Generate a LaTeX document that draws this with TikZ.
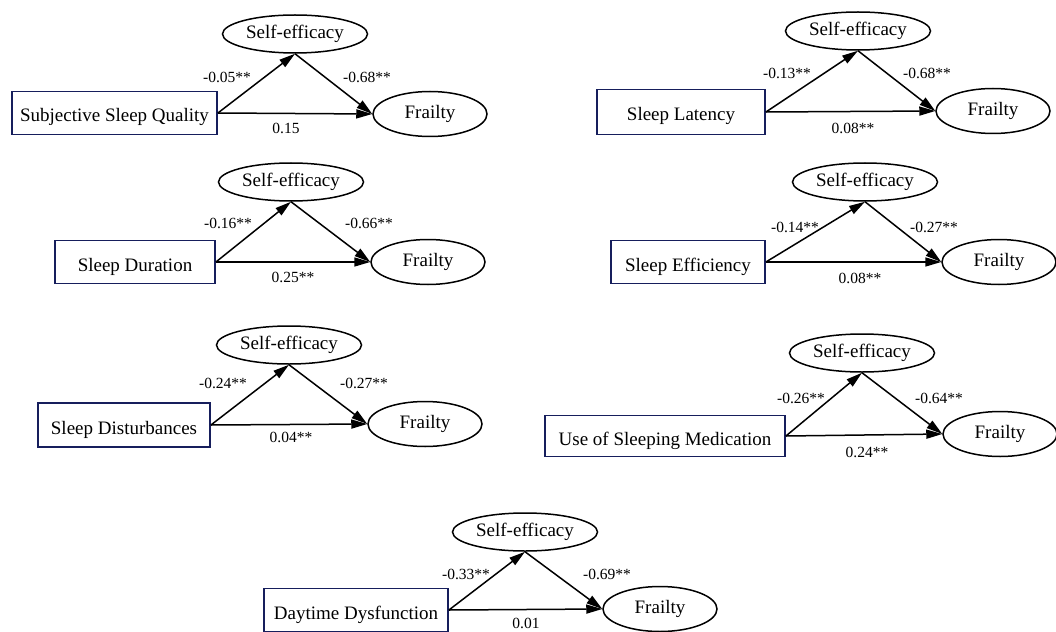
\documentclass[tikz,border=0pt]{standalone}
\usepackage{fontspec}
\setmainfont{Liberation Serif}
\usetikzlibrary{arrows.meta, positioning, shapes.geometric}
\definecolor{navy}{RGB}{22,30,92}

\tikzset{
    varbox/.style={draw=navy, line width=1.8pt, fill=white, minimum height=43pt, inner sep=3pt, text height=18pt, text depth=0pt, font=\fontsize{19}{22}\selectfont},
    medell/.style={draw, ellipse, line width=1.5pt, minimum width=145pt, minimum height=38pt, inner sep=0pt, font=\fontsize{19}{22}\selectfont},
    outell/.style={draw, ellipse, line width=1.5pt, minimum width=114pt, minimum height=45pt, inner sep=0pt, font=\fontsize{19}{22}\selectfont},
    coef/.style={inner sep=0pt, font=\fontsize{15.5}{18}\selectfont}
}

\begin{document}
\begin{tikzpicture}[x=1pt, y=-1pt, >={Triangle[length=16pt,width=9pt]}, line width=1.5pt]
    \useasboundingbox[fill=white] (0,0) rectangle (1056,631);

    % Subjective Sleep Quality
    \node[varbox, minimum width=205pt] (x1) at (114.5,113) {Subjective Sleep Quality};
    \node[medell] (se1) at (295,34) {Self-efficacy};
    \node[outell] (fr1) at (430,114) {Frailty};
    \draw[->] (x1.east) -- (se1.south);
    \draw[->] (se1.south) -- (fr1.west);
    \draw[->] (x1.east) -- (fr1.west);
    \node[coef] at (227,77) {-0.05**};
    \node[coef] at (367,77) {-0.68**};
    \node[coef] at (286,128) {0.15};

    % Sleep Latency
    \node[varbox, minimum width=168pt, minimum height=45pt] (x2) at (681,112) {Sleep Latency};
    \node[medell] (se2) at (858,31) {Self-efficacy};
    \node[outell] (fr2) at (993,111) {Frailty};
    \draw[->] (x2.east) -- (se2.south);
    \draw[->] (se2.south) -- (fr2.west);
    \draw[->] (x2.east) -- (fr2.west);
    \node[coef] at (787,73) {-0.13**};
    \node[coef] at (927,73) {-0.68**};
    \node[coef] at (853,128) {0.08**};

    % Sleep Duration
    \node[varbox, minimum width=160pt] (x3) at (135,262) {Sleep Duration};
    \node[medell] (se3) at (291,182) {Self-efficacy};
    \node[outell] (fr3) at (428,262) {Frailty};
    \draw[->] (x3.east) -- (se3.south);
    \draw[->] (se3.south) -- (fr3.west);
    \draw[->] (x3.east) -- (fr3.west);
    \node[coef] at (228,223) {-0.16**};
    \node[coef] at (369,223) {-0.66**};
    \node[coef] at (293,277) {0.25**};

    % Sleep Efficiency
    \node[varbox, minimum width=154pt] (x4) at (688,262) {Sleep Efficiency};
    \node[medell] (se4) at (865,182) {Self-efficacy};
    \node[outell] (fr4) at (999,262) {Frailty};
    \draw[->] (x4.east) -- (se4.south);
    \draw[->] (se4.south) -- (fr4.west);
    \draw[->] (x4.east) -- (fr4.west);
    \node[coef] at (795,227) {-0.14**};
    \node[coef] at (934,227) {-0.27**};
    \node[coef] at (860,278) {0.08**};

    % Sleep Disturbances
    \node[varbox, minimum width=172pt, minimum height=44pt] (x5) at (124,425) {Sleep Disturbances};
    \node[medell] (se5) at (289,345) {Self-efficacy};
    \node[outell] (fr5) at (425,424) {Frailty};
    \draw[->] (x5.east) -- (se5.south);
    \draw[->] (se5.south) -- (fr5.west);
    \draw[->] (x5.east) -- (fr5.west);
    \node[coef] at (223,383) {-0.24**};
    \node[coef] at (364,383) {-0.27**};
    \node[coef] at (291,437) {0.04**};

    % Use of Sleeping Medication
    \node[varbox, minimum width=240pt, minimum height=41pt] (x6) at (665,436) {Use of Sleeping Medication};
    \node[medell] (se6) at (862,353) {Self-efficacy};
    \node[outell] (fr6) at (1000,434) {Frailty};
    \draw[->] (x6.east) -- (se6.south);
    \draw[->] (se6.south) -- (fr6.west);
    \draw[->] (x6.east) -- (fr6.west);
    \node[coef] at (801,398) {-0.26**};
    \node[coef] at (939,398) {-0.64**};
    \node[coef] at (867,452) {0.24**};

    % Daytime Dysfunction
    \node[varbox, minimum width=184pt] (x7) at (356,610) {Daytime Dysfunction};
    \node[medell] (se7) at (525,532) {Self-efficacy};
    \node[outell] (fr7) at (660,609) {Frailty};
    \draw[->] (x7.east) -- (se7.south);
    \draw[->] (se7.south) -- (fr7.west);
    \draw[->] (x7.east) -- (fr7.west);
    \node[coef] at (466,574) {-0.33**};
    \node[coef] at (607,574) {-0.69**};
    \node[coef] at (526,623) {0.01};
\end{tikzpicture}
\end{document}
